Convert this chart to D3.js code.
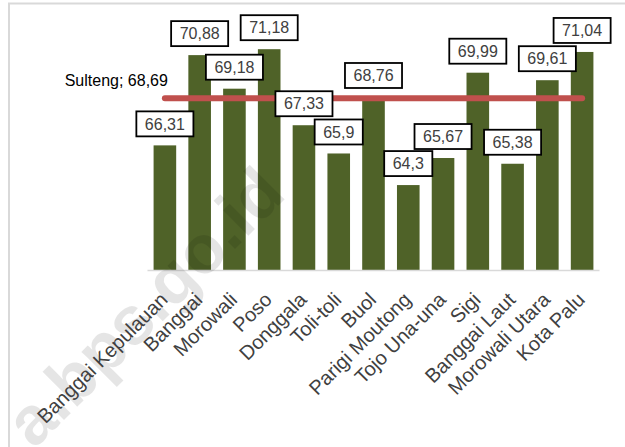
<!DOCTYPE html>
<html>
<head>
<meta charset="utf-8">
<script src="https://cdn.jsdelivr.net/npm/d3@7"></script>
<style>
  body { margin: 0; background: #fff; }
  svg { display: block; font-family: "Liberation Sans", Arial, sans-serif; }
</style>
</head>
<body>
<div id="chart"></div>
<script>
// data
var regions = ["Banggai Kepulauan", "Banggai", "Morowali", "Poso", "Donggala", "Toli-toli", "Buol",
               "Parigi Moutong", "Tojo Una-una", "Sigi", "Banggai Laut", "Morowali Utara", "Kota Palu"];
var values = [66.31, 70.88, 69.18, 71.18, 67.33, 65.9, 68.76, 64.3, 65.67, 69.99, 65.38, 69.61, 71.04];
var provName = "Sulteng";
var provValue = 68.69;
var watermarkText = "a.bps.go.id";

var width = 625,
    height = 447,
    barColor = "#4f6228",
    lineColor = "#c0504d";

function fmt(v) { return String(v).replace(".", ","); }

var svg = d3.select("#chart")
  .append("svg")
  .attr("width", width)
  .attr("height", height);

// outer frame (cut by the window on right and bottom)
svg.append("rect")
  .attr("x", 9).attr("y", 3.5)
  .attr("width", 700).attr("height", 500)
  .attr("fill", "none")
  .attr("stroke", "#d9d9d9")
  .attr("stroke-width", 2);

var x = d3.scaleBand()
  .domain(regions)
  .range([147.5, 599.5])
  .paddingInner(0.35)
  .paddingOuter(0.175);

var y = d3.scaleLinear()
  .domain([60, 72])
  .range([270, 33]);

// bars
svg.selectAll(".bar")
  .data(values)
  .enter()
  .append("rect")
  .attr("class", "bar")
  .attr("x", function(d, i) { return x(regions[i]); })
  .attr("y", function(d) { return y(d); })
  .attr("width", x.bandwidth())
  .attr("height", function(d) { return y(60) - y(d); })
  .attr("fill", barColor);

// x axis line
svg.append("line")
  .attr("x1", x.range()[0]).attr("x2", x.range()[1])
  .attr("y1", y(60) + 0.5).attr("y2", y(60) + 0.5)
  .attr("stroke", "#d9d9d9")
  .attr("stroke-width", 1.5);

// watermark (under the labels)
svg.append("text")
  .attr("transform", "translate(34,450) rotate(-45)")
  .attr("font-size", 68)
  .attr("font-weight", "bold")
  .attr("fill", "#000")
  .attr("fill-opacity", 0.1)
  .text(watermarkText);

// x labels, rotated
svg.selectAll(".xlab")
  .data(regions)
  .enter()
  .append("text")
  .attr("class", "xlab")
  .attr("transform", function(d) {
    return "translate(" + (x(d) + x.bandwidth() / 2 + 4) + "," + 301 + ") rotate(-45)";
  })
  .attr("text-anchor", "end")
  .attr("font-size", 20)
  .attr("fill", "#404040")
  .text(function(d) { return d; });

// province average line
var firstC = x(regions[0]) + x.bandwidth() / 2,
    lastC = x(regions[regions.length - 1]) + x.bandwidth() / 2;

svg.append("line")
  .attr("x1", firstC).attr("x2", lastC)
  .attr("y1", y(provValue)).attr("y2", y(provValue))
  .attr("stroke", lineColor)
  .attr("stroke-width", 6)
  .attr("stroke-linecap", "round");

svg.append("text")
  .attr("x", firstC + 3)
  .attr("y", y(provValue) - 12)
  .attr("text-anchor", "end")
  .attr("font-size", 16)
  .attr("fill", "#000")
  .text(provName + "; " + fmt(provValue));

// value labels in boxes
var lab = svg.selectAll(".vlab")
  .data(values)
  .enter()
  .append("g")
  .attr("class", "vlab")
  .attr("transform", function(d, i) {
    return "translate(" + (x(regions[i]) + x.bandwidth() / 2) + "," + (y(d) - 21.5) + ")";
  });

lab.append("rect")
  .attr("fill", "#fff")
  .attr("stroke", "#000")
  .attr("stroke-width", 1.8);

var labText = lab.append("text")
  .attr("text-anchor", "middle")
  .attr("dy", "0.36em")
  .attr("font-size", 16)
  .attr("fill", "#404040")
  .text(function(d) { return fmt(d); });

labText.each(function() {
  var w = this.getComputedTextLength() + 17;
  d3.select(this.parentNode).select("rect")
    .attr("x", -w / 2).attr("y", -12.5)
    .attr("width", w).attr("height", 25);
});
</script>
</body>
</html>
